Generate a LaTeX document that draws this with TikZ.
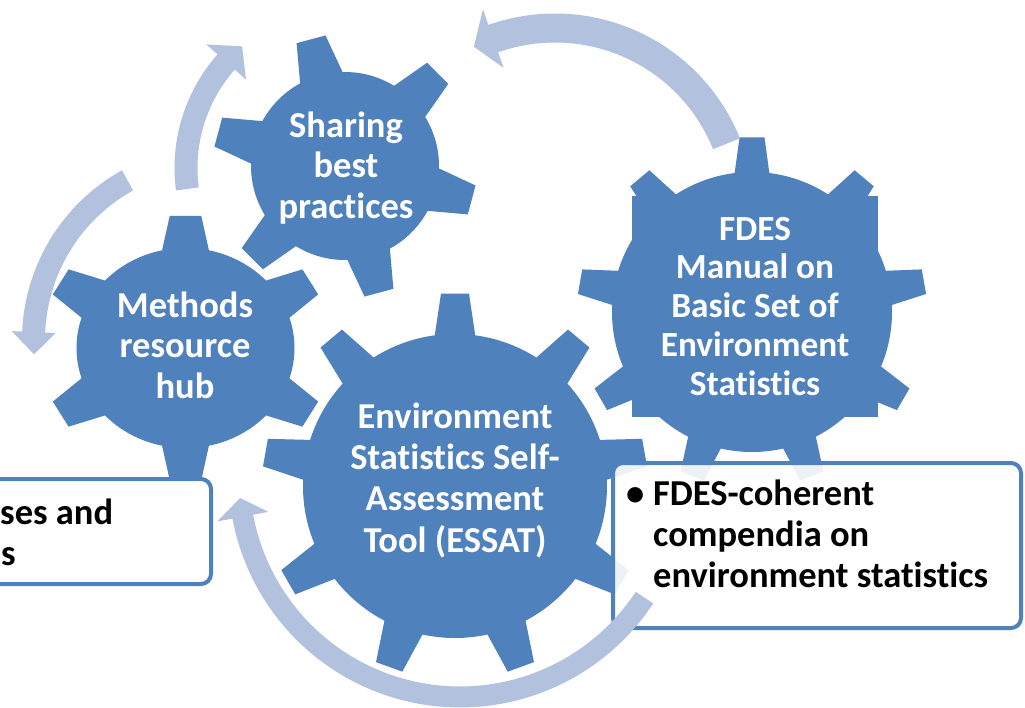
\documentclass[tikz,border=0pt]{standalone}
\usepackage{fontspec}
\setmainfont{Carlito}[Ligatures=NoCommon]
\definecolor{gearblue}{RGB}{79,129,189}
\definecolor{arrowblue}{RGB}{178,193,221}
\tikzset{
  geartext/.style={text=white, font=\fontsize{36.5}{40.5}\selectfont\bfseries, align=center, inner sep=0pt, anchor=base},
  boxtext/.style={text=black, font=\fontsize{36.5}{41}\selectfont\bfseries, align=left, inner sep=0pt, anchor=base west},
  infobox/.style={draw=gearblue, line width=4pt, rounded corners=10pt, fill=white, fill opacity=0.9, draw opacity=1},
  cyclearrow/.style={fill=arrowblue}
}
% cx, cy, teeth, tip radius, body radius, tip width, base width, rotation, xscale
\newcommand{\drawgear}[9]{%
  \begin{scope}[shift={(#1,#2)}, xscale=#9]
    \fill[gearblue] (0,0) circle[radius=#5];
    \foreach \k in {1,...,#3}{
      \pgfmathsetmacro{\gth}{#8+360/#3*\k}
      \pgfmathsetmacro{\gbb}{(#7/2)/#5*57.2958}
      \pgfmathsetmacro{\gbt}{(#6/2)/#4*57.2958}
      \fill[gearblue] ({\gth-\gbb}:{#5-4}) -- ({\gth-\gbt}:{#4}) -- ({\gth+\gbt}:{#4}) -- ({\gth+\gbb}:{#5-4}) -- cycle;
    }
  \end{scope}}
% cx, cy, mid radius, half width, tail angle, head base angle, head half width, tip angle
\newcommand{\drawcarrow}[8]{%
  \fill[cyclearrow, shift={(#1,#2)}]
    plot[domain=#5:#6, samples=60] (\x:{#3+#4}) -- ({#6}:{#3+#7}) -- ({#8}:{#3})
    -- ({#6}:{#3-#7}) -- plot[domain=#6:#5, samples=60] (\x:{#3-#4}) -- cycle;}
\begin{document}
\begin{tikzpicture}[x=1pt,y=-1pt]
\useasboundingbox (0,0) rectangle (1025,707);
\fill[white] (0,0) rectangle (1025,707);
% gears
\drawgear{345}{166}{6}{132}{94}{30}{48}{-105}{1}
\drawgear{185.5}{348}{6}{133}{100}{29}{47}{-90}{1.09}
\drawgear{455}{486}{9}{193}{152}{28}{43}{-90}{1}
\drawgear{752}{312}{9}{175}{140}{25}{37}{-90}{1}
\fill[gearblue] (632,196) rectangle (878,417);
% gear labels (anchor base = baseline of the last line)
\node[geartext] (sharing) at (346,218) {Sharing\\best\\practices};
\node[geartext] (methods) at (185,398) {Methods\\resource\\hub};
\node[geartext, font=\fontsize{36.5}{41.3}\selectfont\bfseries] (essat) at (455,552) {Environment\\Statistics Self-\\Assessment\\Tool (ESSAT)};
\node[geartext, font=\fontsize{35.3}{38.75}\selectfont\bfseries] (fdes) at (755,395) {FDES\\Manual on\\Basic Set of\\Environment\\Statistics};
% boxes
\draw[infobox] (-20,479) rectangle (211,584);
\node[boxtext] (leftlist) at (0,565) {ses and\\\hspace*{1pt}s};
\draw[infobox] (613,463) rectangle (1021,628);
\node[boxtext] (rightlist) at (653,587) {\llap{•\hspace{9pt}}FDES-coherent\\compendia on\\environment statistics};
% circular arrows
\drawcarrow{555}{213}{185}{14.5}{-22}{-109.5}{31}{-116}
\drawcarrow{346}{168}{160}{11.5}{172.5}{221.5}{26.5}{229.5}
\drawcarrow{216}{340}{182.5}{11.5}{241}{182.5}{22}{175.5}
\drawcarrow{460}{476}{221}{10.5}{33.4}{169.4}{26}{174.3}
\end{tikzpicture}
\end{document}
